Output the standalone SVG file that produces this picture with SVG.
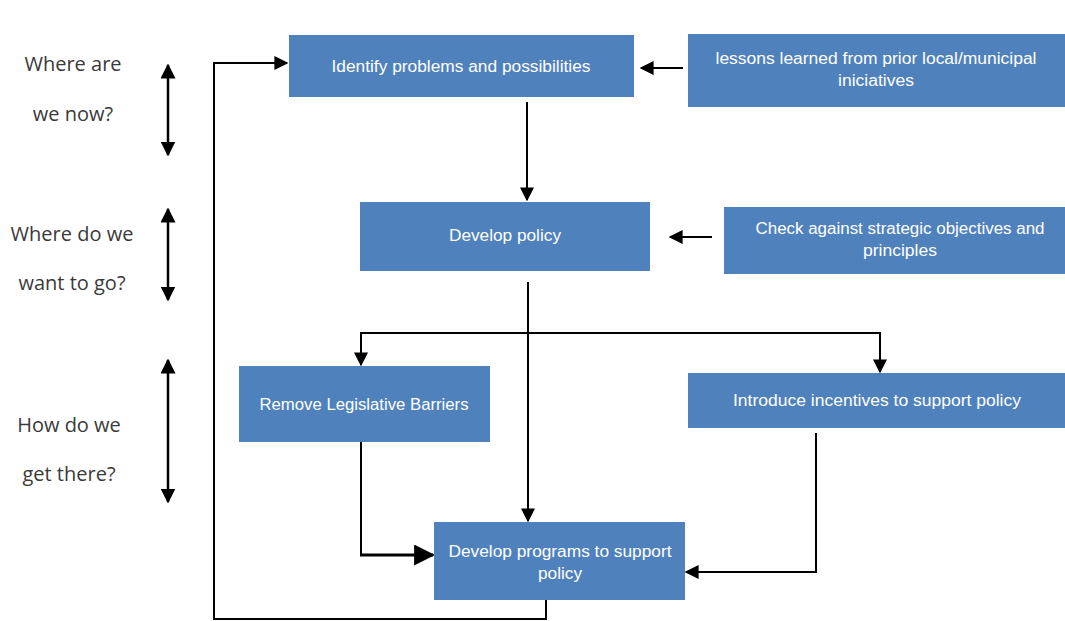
<svg xmlns="http://www.w3.org/2000/svg" width="1065" height="621" viewBox="0 0 1065 621">
  <style>
    .box { fill: #4f81bd; }
    .lbl { font-family: "Liberation Sans", Arial, sans-serif; font-size: 16px; fill: #ffffff; text-anchor: middle; }
    .side { font-family: "Open Sans", "Liberation Sans", sans-serif; font-size: 20px; fill: #3a3a3a; text-anchor: middle; }
    .wire { fill: none; stroke: #000000; stroke-width: 2; }
    .dbl { fill: none; stroke: #000000; stroke-width: 2.5; }
  </style>
  <defs>
    <marker id="head" viewBox="0 0 10 10" refX="9" refY="5" markerWidth="7" markerHeight="7" markerUnits="strokeWidth" orient="auto">
      <path d="M0,0 L10,5 L0,10 Z" fill="#000000"/>
    </marker>
    <marker id="headL" viewBox="0 0 10 10" refX="9" refY="5" markerWidth="6" markerHeight="6" markerUnits="strokeWidth" orient="auto-start-reverse">
      <path d="M0,0 L10,5 L0,10 Z" fill="#000000"/>
    </marker>
  </defs>

  <rect x="0" y="0" width="1065" height="621" fill="#ffffff"/>

  <!-- stage questions on the left -->
  <g id="stage-now">
    <text class="side" x="73" y="71">Where are</text>
    <text class="side" x="73" y="121">we now?</text>
    <line class="dbl" x1="168" y1="65" x2="168" y2="155" marker-start="url(#headL)" marker-end="url(#headL)"/>
  </g>
  <g id="stage-go">
    <text class="side" x="72" y="241">Where do we</text>
    <text class="side" x="72" y="290">want to go?</text>
    <line class="dbl" x1="168" y1="209" x2="168" y2="300" marker-start="url(#headL)" marker-end="url(#headL)"/>
  </g>
  <g id="stage-there">
    <text class="side" x="69" y="432">How do we</text>
    <text class="side" x="69" y="481">get there?</text>
    <line class="dbl" x1="168" y1="360" x2="168" y2="502" marker-start="url(#headL)" marker-end="url(#headL)"/>
  </g>

  <!-- connectors -->
  <g id="connectors">
    <line class="wire" x1="683" y1="68" x2="641" y2="68" marker-end="url(#head)"/>
    <line class="wire" x1="527" y1="102" x2="527" y2="200" marker-end="url(#head)"/>
    <line class="wire" x1="712" y1="237" x2="670" y2="237" marker-end="url(#head)"/>
    <line class="wire" x1="528" y1="282" x2="528" y2="521" marker-end="url(#head)"/>
    <polyline class="wire" points="528,333 361,333 361,365" marker-end="url(#head)"/>
    <polyline class="wire" points="528,333 880,333 880,372" marker-end="url(#head)"/>
    <polyline class="wire" points="361,442 361,555"/>
    <line x1="360" y1="555" x2="433" y2="555" stroke="#000" stroke-width="3" marker-end="url(#head)"/>
    <polyline class="wire" points="816,433 816,572 686,572" marker-end="url(#head)"/>
    <polyline class="wire" points="546,600 546,619 214,619 214,63 287,63" marker-end="url(#head)"/>
  </g>

  <!-- process boxes -->
  <g id="identify">
    <rect class="box" x="289" y="35" width="345" height="62"/>
    <text class="lbl" x="461" y="72" textLength="259" lengthAdjust="spacingAndGlyphs">Identify problems and possibilities</text>
  </g>
  <g id="lessons">
    <rect class="box" x="688" y="34" width="377" height="73"/>
    <text class="lbl" x="876" y="64" textLength="321" lengthAdjust="spacingAndGlyphs">lessons learned from prior local/municipal</text>
    <text class="lbl" x="876" y="86" textLength="76" lengthAdjust="spacingAndGlyphs">iniciatives</text>
  </g>
  <g id="develop-policy">
    <rect class="box" x="360" y="202" width="290" height="69"/>
    <text class="lbl" x="505" y="241" textLength="112" lengthAdjust="spacingAndGlyphs">Develop policy</text>
  </g>
  <g id="check">
    <rect class="box" x="724" y="207" width="341" height="67"/>
    <text class="lbl" x="900" y="234" textLength="289" lengthAdjust="spacingAndGlyphs">Check against strategic objectives and</text>
    <text class="lbl" x="900" y="256" textLength="74" lengthAdjust="spacingAndGlyphs">principles</text>
  </g>
  <g id="remove-barriers">
    <rect class="box" x="239" y="366" width="251" height="76"/>
    <text class="lbl" x="364" y="410" textLength="209" lengthAdjust="spacingAndGlyphs">Remove Legislative Barriers</text>
  </g>
  <g id="incentives">
    <rect class="box" x="688" y="373" width="377" height="55"/>
    <text class="lbl" x="877" y="406" textLength="288" lengthAdjust="spacingAndGlyphs">Introduce incentives to support policy</text>
  </g>
  <g id="programs">
    <rect class="box" x="434" y="522" width="251" height="78"/>
    <text class="lbl" x="560" y="557" textLength="223" lengthAdjust="spacingAndGlyphs">Develop programs to support</text>
    <text class="lbl" x="560" y="579" textLength="44" lengthAdjust="spacingAndGlyphs">policy</text>
  </g>
</svg>
